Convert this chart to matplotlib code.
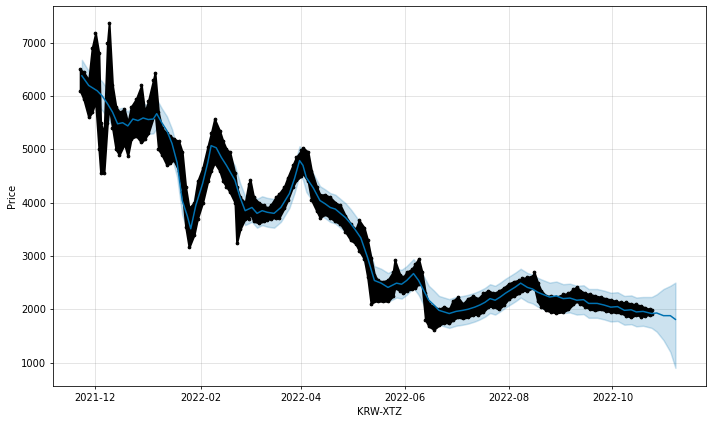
import matplotlib
matplotlib.use("Agg")
import matplotlib.pyplot as plt
import matplotlib.dates as mdates
import pandas as pd

# ---- Observed data: envelope (low / high) of the dense hourly points ----
obs_dates = [
    "2021-11-22", "2021-11-24", "2021-11-27", "2021-11-29", "2021-12-01", "2021-12-03",
    "2021-12-04", "2021-12-06", "2021-12-08", "2021-12-09", "2021-12-11", "2021-12-13",
    "2021-12-15", "2021-12-18", "2021-12-20", "2021-12-22", "2021-12-25", "2021-12-28",
    "2021-12-30", "2022-01-01", "2022-01-04", "2022-01-05", "2022-01-07", "2022-01-09",
    "2022-01-12", "2022-01-14", "2022-01-16", "2022-01-19", "2022-01-21", "2022-01-23",
    "2022-01-25", "2022-01-28", "2022-01-30", "2022-02-02", "2022-02-05", "2022-02-07",
    "2022-02-09", "2022-02-12", "2022-02-14", "2022-02-16", "2022-02-18", "2022-02-21",
    "2022-02-22", "2022-02-24", "2022-02-27", "2022-03-01", "2022-03-02", "2022-03-04",
    "2022-03-07", "2022-03-10", "2022-03-12", "2022-03-14", "2022-03-17", "2022-03-19",
    "2022-03-22", "2022-03-24", "2022-03-27", "2022-03-29", "2022-04-01", "2022-04-02",
    "2022-04-05", "2022-04-07", "2022-04-10", "2022-04-12", "2022-04-15", "2022-04-18",
    "2022-04-21", "2022-04-24", "2022-04-27", "2022-04-30", "2022-05-03", "2022-05-05",
    "2022-05-08", "2022-05-10", "2022-05-12", "2022-05-14", "2022-05-16", "2022-05-19",
    "2022-05-22", "2022-05-25", "2022-05-26", "2022-05-29", "2022-05-31", "2022-06-02",
    "2022-06-05", "2022-06-07", "2022-06-09", "2022-06-11", "2022-06-13", "2022-06-15",
    "2022-06-18", "2022-06-21", "2022-06-24", "2022-06-27", "2022-06-29", "2022-07-02",
    "2022-07-05", "2022-07-08", "2022-07-11", "2022-07-14", "2022-07-17", "2022-07-20",
    "2022-07-23", "2022-07-26", "2022-07-29", "2022-08-01", "2022-08-04", "2022-08-07",
    "2022-08-09", "2022-08-12", "2022-08-15", "2022-08-16", "2022-08-18", "2022-08-20",
    "2022-08-23", "2022-08-26", "2022-08-29", "2022-09-02", "2022-09-05", "2022-09-08",
    "2022-09-10", "2022-09-12", "2022-09-15", "2022-09-18", "2022-09-21", "2022-09-24",
    "2022-09-27", "2022-09-30", "2022-10-03", "2022-10-06", "2022-10-09", "2022-10-12",
    "2022-10-15", "2022-10-18", "2022-10-20", "2022-10-23", "2022-10-24",
]
obs_low = [
    6100, 5950, 5600, 5700, 5900, 5000,
    4560, 4560, 5500, 5800, 5400, 5000,
    4900, 5100, 4880, 5200, 5250, 5130,
    5200, 5300, 5600, 5700, 5000, 4900,
    4700, 4750, 4800, 4600, 4200, 3550,
    3160, 3400, 3700, 4000, 4400, 4600,
    4750, 4600, 4400, 4300, 4200, 4000,
    3240, 3500, 3700, 3700, 3800, 3650,
    3620, 3650, 3680, 3700, 3720, 3720,
    3900, 4050, 4300, 4420, 4500, 4550,
    4400, 4050, 3850, 3720, 3780, 3720,
    3650, 3600, 3450, 3300, 3230, 3100,
    2950, 2600, 2100, 2150, 2150, 2150,
    2150, 2250, 2400, 2350, 2300, 2350,
    2380, 2400, 2480, 2450, 1800, 1680,
    1620, 1700, 1750, 1740, 1800, 1850,
    1830, 1850, 1900, 1900, 1950, 2050,
    2050, 2000, 2080, 2200, 2250, 2300,
    2350, 2350, 2400, 2420, 2150, 2050,
    1980, 1950, 1930, 1950, 2000, 2100,
    2150, 2100, 2050, 2000, 1980, 2000,
    1970, 1950, 1940, 1930, 1880, 1850,
    1900, 1860, 1880, 1900, 1920,
]
obs_high = [
    6500, 6450, 6300, 6900, 7180, 6800,
    5500, 5300, 7000, 7370, 6200, 5800,
    5700, 5750, 5500, 5800, 5950, 6200,
    5700, 5900, 6300, 6440, 5700, 5400,
    5300, 5250, 5200, 5150, 4950, 4300,
    3900, 4000, 4400, 4650, 5050, 5300,
    5570, 5350, 5150, 5000, 4950, 4550,
    4300, 4100, 4000, 4350, 4420, 4100,
    4000, 3950, 3900, 3950, 4100, 4170,
    4300, 4470, 4700, 4850, 4980, 5030,
    4950, 4600, 4300, 4150, 4150, 4100,
    4000, 3950, 3750, 3600, 3500, 3670,
    3530, 3300, 2970, 2650, 2540, 2520,
    2550, 2700, 2920, 2650, 2600, 2700,
    2750, 2850, 2950, 2700, 2300, 2100,
    2050, 2000, 2050, 2000, 2150, 2230,
    2100, 2200, 2250, 2200, 2300, 2350,
    2300, 2340, 2400, 2480, 2520, 2550,
    2580, 2600, 2630, 2690, 2500, 2350,
    2250, 2250, 2230, 2280, 2300, 2380,
    2420, 2350, 2300, 2280, 2250, 2230,
    2200, 2180, 2150, 2130, 2130, 2100,
    2090, 2060, 2030, 2000, 1990,
]

# ---- Forecast (yhat) and its uncertainty interval ----
fc_dates = [
    "2021-11-23", "2021-11-27", "2021-12-02", "2021-12-05", "2021-12-08", "2021-12-11",
    "2021-12-14", "2021-12-17", "2021-12-20", "2021-12-23", "2021-12-26", "2021-12-29",
    "2022-01-01", "2022-01-04", "2022-01-06", "2022-01-09", "2022-01-12", "2022-01-15",
    "2022-01-18", "2022-01-21", "2022-01-24", "2022-01-26", "2022-01-29", "2022-02-02",
    "2022-02-05", "2022-02-07", "2022-02-10", "2022-02-13", "2022-02-16", "2022-02-21",
    "2022-02-24", "2022-02-27", "2022-03-03", "2022-03-06", "2022-03-09", "2022-03-12",
    "2022-03-16", "2022-03-20", "2022-03-25", "2022-03-28", "2022-03-31", "2022-04-02",
    "2022-04-04", "2022-04-08", "2022-04-12", "2022-04-15", "2022-04-18", "2022-04-21",
    "2022-04-24", "2022-04-27", "2022-04-30", "2022-05-03", "2022-05-06", "2022-05-10",
    "2022-05-14", "2022-05-18", "2022-05-22", "2022-05-27", "2022-05-30", "2022-06-02",
    "2022-06-06", "2022-06-09", "2022-06-12", "2022-06-15", "2022-06-18", "2022-06-21",
    "2022-06-24", "2022-06-27", "2022-07-01", "2022-07-05", "2022-07-08", "2022-07-12",
    "2022-07-15", "2022-07-18", "2022-07-21", "2022-07-24", "2022-07-27", "2022-07-30",
    "2022-08-02", "2022-08-05", "2022-08-08", "2022-08-12", "2022-08-15", "2022-08-18",
    "2022-08-21", "2022-08-25", "2022-08-29", "2022-09-02", "2022-09-06", "2022-09-10",
    "2022-09-14", "2022-09-17", "2022-09-22", "2022-09-26", "2022-09-30", "2022-10-04",
    "2022-10-08", "2022-10-12", "2022-10-15", "2022-10-19", "2022-10-24", "2022-10-27",
    "2022-10-31", "2022-11-04", "2022-11-07",
]
yhat = [
    6380, 6200, 6100, 6000, 5860, 5700,
    5480, 5500, 5440, 5570, 5540, 5590,
    5560, 5570, 5670, 5500, 5350, 5110,
    4750, 4040, 3750, 3510, 3950, 4360,
    4750, 5070, 5030, 4850, 4700, 4420,
    4100, 3850, 3910, 3800, 3850, 3820,
    3800, 3910, 4170, 4450, 4790, 4700,
    4470, 4280, 4040, 3980, 3910, 3880,
    3800, 3720, 3610, 3480, 3340, 2970,
    2540, 2490, 2410, 2490, 2470, 2540,
    2670, 2540, 2350, 2170, 2080, 1980,
    1950, 1920, 1960, 1980, 2000, 2040,
    2080, 2130, 2200, 2170, 2230, 2300,
    2360, 2420, 2490, 2410, 2380, 2320,
    2280, 2230, 2250, 2200, 2210, 2170,
    2180, 2110, 2110, 2080, 2040, 2050,
    1980, 1990, 1950, 1960, 1920, 1930,
    1880, 1880, 1810,
]
yhat_upper = [
    6680, 6470, 6370, 6270, 6130, 5970,
    5760, 5780, 5710, 5840, 5810, 5860,
    5830, 5840, 5940, 5770, 5620, 5380,
    5020, 4310, 4020, 3790, 4230, 4640,
    5020, 5340, 5300, 5120, 4970, 4690,
    4370, 4120, 4180, 4070, 4120, 4090,
    4070, 4180, 4440, 4720, 5060, 4970,
    4740, 4550, 4310, 4250, 4180, 4150,
    4070, 3990, 3880, 3750, 3610, 3240,
    2810, 2760, 2680, 2760, 2740, 2810,
    2940, 2810, 2620, 2440, 2350, 2250,
    2220, 2190, 2230, 2250, 2270, 2310,
    2350, 2400, 2470, 2440, 2500, 2570,
    2630, 2690, 2760, 2680, 2650, 2590,
    2550, 2500, 2520, 2470, 2480, 2440,
    2450, 2380, 2380, 2350, 2310, 2320,
    2250, 2260, 2220, 2230, 2230, 2280,
    2380, 2440, 2500,
]
yhat_lower = [
    6100, 5930, 5830, 5730, 5590, 5430,
    5210, 5230, 5170, 5300, 5270, 5320,
    5290, 5300, 5400, 5230, 5080, 4840,
    4480, 3770, 3480, 3250, 3680, 4090,
    4480, 4800, 4760, 4580, 4430, 4150,
    3830, 3580, 3640, 3530, 3580, 3550,
    3530, 3640, 3900, 4180, 4520, 4430,
    4200, 4010, 3770, 3710, 3640, 3610,
    3530, 3450, 3340, 3210, 3070, 2700,
    2270, 2220, 2140, 2220, 2200, 2270,
    2400, 2270, 2080, 1900, 1810, 1710,
    1680, 1650, 1690, 1710, 1730, 1770,
    1810, 1860, 1930, 1900, 1960, 2030,
    2090, 2150, 2220, 2140, 2110, 2050,
    2010, 1960, 1980, 1930, 1940, 1900,
    1910, 1840, 1840, 1810, 1770, 1780,
    1710, 1720, 1680, 1690, 1650, 1580,
    1420, 1200, 900,
]

x_label = "KRW-XTZ"
y_label = "Price"

obs_t = pd.to_datetime(obs_dates)
fc_t = pd.to_datetime(fc_dates)

fig = plt.figure(facecolor="w", figsize=(10, 424 / 71.2), dpi=71.2)
ax = fig.add_subplot(111)
fig.subplots_adjust(left=0.0744, right=0.9916, top=0.9858, bottom=0.0896)

# observed points (dense band)
ax.fill_between(obs_t, obs_low, obs_high, color="k", linewidth=2, edgecolor="k", zorder=2)
ax.plot(obs_t, obs_low, "k.", markersize=5.5, zorder=2)
ax.plot(obs_t, obs_high, "k.", markersize=5.5, zorder=2)

# forecast
ax.plot(fc_t, yhat, ls="-", c="#0072B2", lw=1.5, zorder=3)
ax.fill_between(fc_t, yhat_lower, yhat_upper, facecolor="#0072B2", edgecolor="#0072B2",
                alpha=0.2, lw=1.5, zorder=1)

ax.grid(True, which="major", c="gray", ls="-", lw=1, alpha=0.2)
ax.set_axisbelow(True)
ax.xaxis.set_major_locator(mdates.MonthLocator(bymonth=[2, 4, 6, 8, 10, 12]))
ax.xaxis.set_major_formatter(mdates.DateFormatter("%Y-%m"))
ax.set_xlim(pd.Timestamp("2021-11-06"), pd.Timestamp("2022-11-25"))
ax.set_ylim(560, 7690)
ax.set_xlabel(x_label)
ax.set_ylabel(y_label)

fig.savefig("out.png", dpi=71.2, facecolor="w")
